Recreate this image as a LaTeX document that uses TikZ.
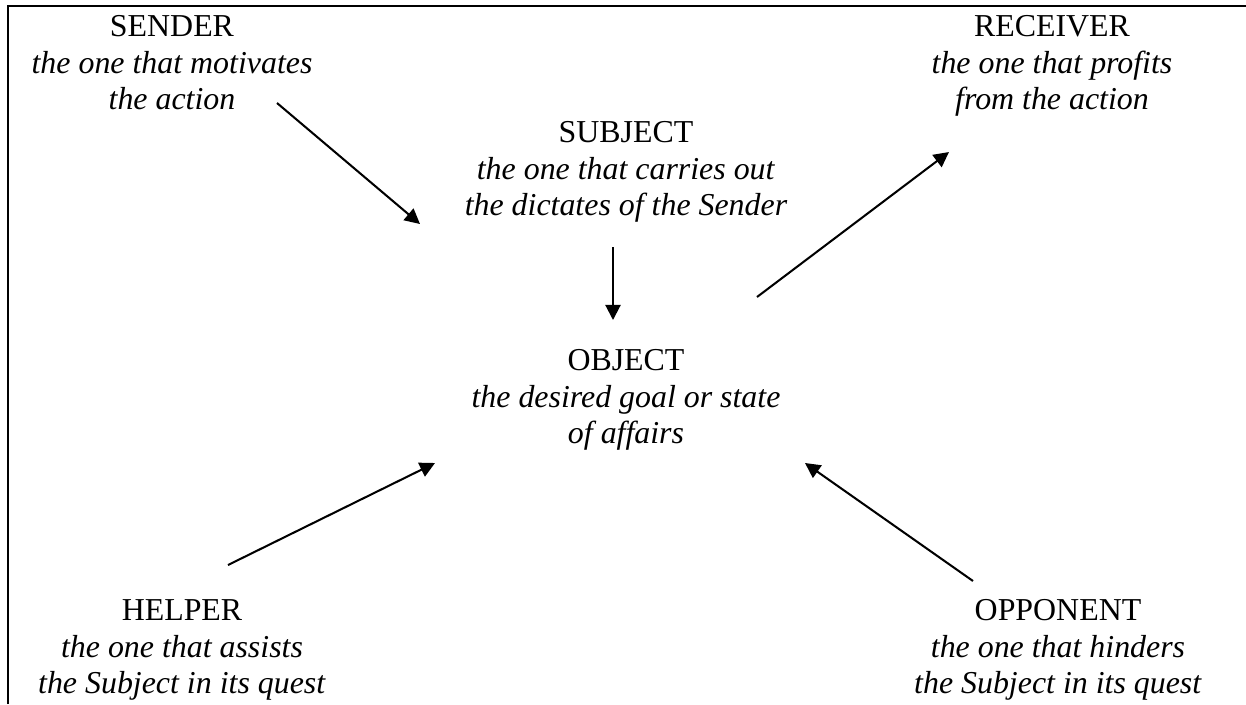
\documentclass[tikz,border=0pt]{standalone}
\usepackage{fontspec}
\setmainfont{Liberation Serif}
\usetikzlibrary{arrows.meta}
\tikzset{
  actant/.style={align=center, inner sep=0pt, font=\fontsize{13.3pt}{15.2pt}\selectfont},
  conn/.style={line width=0.85pt, -{Triangle[length=6.3pt,width=6.3pt]}},
  frame/.style={line width=1.15pt}
}
\begin{document}
\begin{tikzpicture}[x=0.417pt, y=-0.417pt]
\useasboundingbox (0,0) rectangle (1246,704);
\draw[frame] (8,704) -- (8,6) -- (1246,6);
\node[actant] (sender) at (172,63) {SENDER\\\textit{the one that motivates}\\\textit{the action}};
\node[actant] (receiver) at (1052,66) {RECEIVER\\\textit{the one that profits}\\\textit{from the action}};
\node[actant] (subject) at (626,172) {SUBJECT\\\textit{the one that carries out}\\\textit{the dictates of the Sender}};
\node[actant] (object) at (626,400) {OBJECT\\\textit{the desired goal or state}\\\textit{of affairs}};
\node[actant] (helper) at (182,650) {HELPER\\\textit{the one that assists}\\\textit{the Subject in its quest}};
\node[actant] (opponent) at (1058,650) {OPPONENT\\\textit{the one that hinders}\\\textit{the Subject in its quest}};
\coordinate (s1) at (277,103);
\coordinate (s2) at (420,224);
\coordinate (u1) at (613,247);
\coordinate (u2) at (613,320);
\coordinate (r1) at (757,297);
\coordinate (r2) at (949,152);
\coordinate (h1) at (228,565);
\coordinate (h2) at (435,463);
\coordinate (o1) at (973,581);
\coordinate (o2) at (805,463);
\draw[conn] (s1) -- (s2);
\draw[conn] (u1) -- (u2);
\draw[conn] (r1) -- (r2);
\draw[conn] (h1) -- (h2);
\draw[conn] (o1) -- (o2);
\end{tikzpicture}
\end{document}
